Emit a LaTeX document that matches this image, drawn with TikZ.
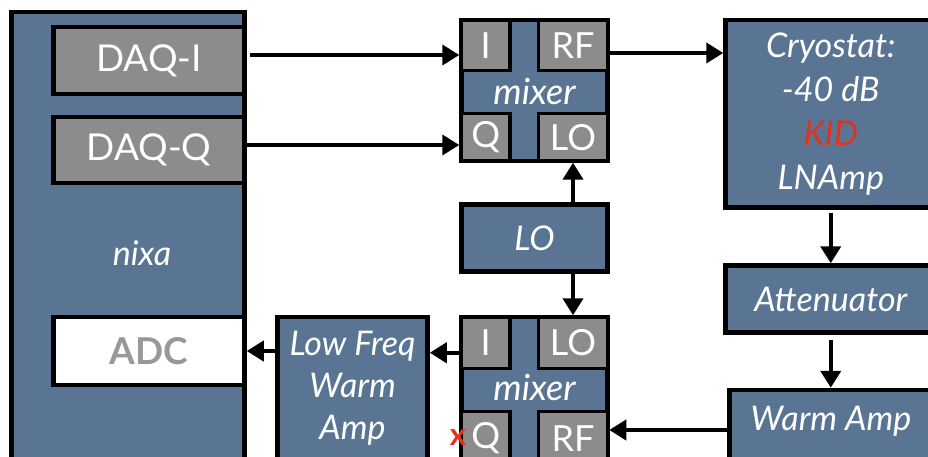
\documentclass[tikz,border=0pt]{standalone}
\usepackage{fontspec}
\setmainfont{Lato}
\usetikzlibrary{arrows.meta}
\definecolor{panel}{RGB}{90,117,148}
\definecolor{port}{RGB}{140,140,140}
\definecolor{kidred}{RGB}{226,50,30}
\definecolor{adcgray}{RGB}{152,152,152}
\tikzset{
  box/.style={draw=black, line width=4.5pt, fill=panel, inner sep=0pt, text=white,
    font=\fontsize{34}{44}\selectfont\itshape, align=center},
  portbox/.style={draw=black, line width=3.5pt, fill=port, inner sep=0pt, text=white,
    font=\fontsize{36}{40}\selectfont},
  daqbox/.style={draw=black, line width=4.5pt, fill=port, inner sep=0pt, text=white,
    font=\fontsize{37}{40}\selectfont},
  itxt/.style={text=white, font=\fontsize{34}{42}\selectfont\itshape, align=center, inner sep=0pt},
  arr/.style={line width=4pt, -{Triangle[length=17pt,width=20pt]}},
}
\begin{document}
\begin{tikzpicture}[x=1pt,y=-1pt]
\useasboundingbox (0,0) rectangle (928,457);
\clip (0,0) rectangle (928,457);
\fill[white] (0,0) rectangle (928,457);

% nixa
\node[box, minimum width=233pt, minimum height=447pt] (nixa) at (128,235.5) {};
\node[itxt] (nixatext) at (142,253) {nixa};
\node[daqbox, minimum width=191pt, minimum height=67pt] (daqi) at (149,60.5) {DAQ-I};
\node[daqbox, minimum width=191pt, minimum height=66pt] (daqq) at (149,150) {DAQ-Q};
\node[daqbox, fill=white, text=adcgray, font=\fontsize{37}{40}\selectfont\bfseries,
  minimum width=191pt, minimum height=68pt] (adc) at (149,351) {ADC};

% upper mixer
\node[box, minimum width=146pt, minimum height=141pt] (mixA) at (534.5,90.5) {};
\node[portbox, minimum width=48.5pt, minimum height=50.5pt] (aI) at (485.75,45.25) {I};
\node[portbox, minimum width=69pt, minimum height=50.5pt] (aRF) at (573,45.25) {RF};
\node[portbox, minimum width=48.5pt, minimum height=47.5pt] (aQ) at (485.75,137.25) {Q};
\node[portbox, minimum width=69pt, minimum height=47.5pt] (aLO) at (573,137.25) {LO};
\node[itxt, font=\fontsize{36}{40}\selectfont\itshape] (mixAtext) at (534.5,91) {mixer};

% LO
\node[box, minimum width=146pt, minimum height=67pt] (lo) at (534.5,238) {LO};

% lower mixer
\node[box, minimum width=146pt, minimum height=153pt] (mixB) at (534.5,393.5) {};
\node[portbox, minimum width=48.5pt, minimum height=51.5pt] (bI) at (485.75,342.75) {I};
\node[portbox, minimum width=69pt, minimum height=51.5pt] (bLO) at (573,342.75) {LO};
\node[portbox, minimum width=48.5pt, minimum height=53.5pt] (bQ) at (485.75,438.25) {Q};
\node[portbox, minimum width=69pt, minimum height=53.5pt] (bRF) at (573,438.25) {RF};
\node[itxt, font=\fontsize{36}{40}\selectfont\itshape] (mixBtext) at (534.5,387) {mixer};
\node[text=kidred, inner sep=0pt, font=\fontsize{31}{32}\selectfont\bfseries] (xmark) at (458,438) {x};

% right chain
\node[box, minimum width=210.5pt, minimum height=187.5pt] (cryo) at (830.75,113.75)
  {Cryostat:\\-40 dB\\\textcolor{kidred}{KID}\\LNAmp};
\node[box, minimum width=210.5pt, minimum height=67pt] (atten) at (830.75,299) {Attenuator};
\node[box, minimum width=206.5pt, minimum height=80pt] (warm) at (832.75,430) {};
\node[itxt] (warmtext) at (831,421) {Warm Amp};

% low freq warm amp
\node[box, minimum width=150pt, minimum height=153pt] (lowf) at (352.5,393.5) {};
\node[itxt] (lowftext) at (352.5,388) {Low Freq\\Warm\\Amp};

% connectors
\draw[arr] ([xshift=3pt,yshift=5.5pt]daqi.east) coordinate (c1) -- (c1 -| mixA.west);
\draw[arr] ([yshift=5pt]daqq.east) coordinate (c2) -- (c2 -| mixA.west);
\draw[arr] ([yshift=-7.75pt]aRF.east) coordinate (c3) -- (c3 -| cryo.west);
\draw[arr] (aLO.south |- lo.north) -- (aLO.south);
\draw[arr] (bLO.north |- lo.south) -- (bLO.north);
\draw[arr] ([yshift=-3pt]cryo.south) -- (atten.north);
\draw[arr] ([yshift=-5pt]atten.south) coordinate (c7) -- (c7 |- warm.north);
\draw[arr] (warm.west) -- (warm.west -| bRF.east);
\draw[arr] ([yshift=-10pt]bI.west) coordinate (c9) -- (c9 -| lowf.east);
\draw[arr] (adc.east -| lowf.west) -- (adc.east);
\end{tikzpicture}
\end{document}
